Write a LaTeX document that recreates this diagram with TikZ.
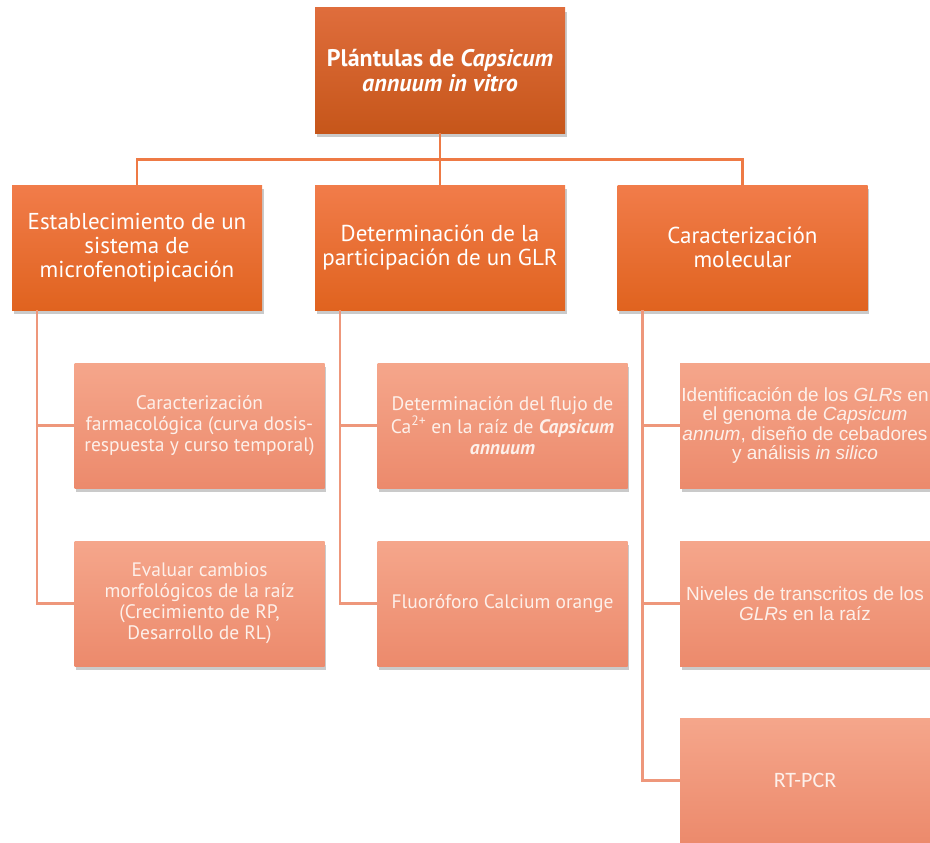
\documentclass[tikz,border=0pt]{standalone}
\usepackage{fontspec}
\setmainfont{PT Sans}
\newfontfamily\arialf{Liberation Sans}
\newfontfamily\calibf{Carlito}
\usetikzlibrary{shadows}
\definecolor{topT}{HTML}{DF6D3C}
\definecolor{topB}{HTML}{C6561A}
\definecolor{midT}{HTML}{F17C4A}
\definecolor{midB}{HTML}{E0631F}
\definecolor{leafT}{HTML}{F5A68B}
\definecolor{leafB}{HTML}{EC8A6C}
\definecolor{lineA}{HTML}{EE7A45}
\definecolor{lineB}{HTML}{EE977B}
\definecolor{leafTxt}{HTML}{FDF0EA}
\tikzset{
  box/.style={rectangle, minimum width=250pt, minimum height=125pt, inner sep=1pt,
    align=center, text=white,
    drop shadow={shadow xshift=1.5pt, shadow yshift=-4pt, opacity=0.35, fill=black!60}},
  topbox/.style={box, top color=topT, bottom color=topB,
    font=\fontsize{24}{25}\selectfont\bfseries},
  midbox/.style={box, top color=midT, bottom color=midB,
    font=\fontsize{23}{24}\selectfont},
  leafbox/.style={box, top color=leafT, bottom color=leafB, text=leafTxt,
    font=\fontsize{19.5}{21}\selectfont},
  linkA/.style={draw=lineA, line width=2.8pt},
  linkB/.style={draw=lineB, line width=2.4pt}
}
\begin{document}
\begin{tikzpicture}[x=1pt,y=-1pt]
\useasboundingbox (0,0) rectangle (930,843);
\clip (0,0) rectangle (930,843);
% nodes
\node[topbox] (top) at (440,70.5) {Plántulas de \textit{Capsicum}\\\textit{annuum in vitro}};
\node[midbox] (l1) at (137,247.5) {Establecimiento de un\\sistema de\\microfenotipicación};
\node[midbox] (l2) at (440,247.5) {Determinación de la\\participación de un GLR};
\node[midbox] (l3) at (742.5,247.5) {Caracterización\\molecular};
\node[leafbox] (a1) at (199.5,425.5) {Caracterización\\farmacológica (curva dosis-\\respuesta y curso temporal)};
\node[leafbox] (a2) at (199.5,603.5) {Evaluar cambios\\morfológicos de la raíz\\(Crecimiento de RP,\\Desarrollo de RL)};
\node[leafbox] (b1) at (502.5,425.5) {Determinación del flujo de\\Ca\textsuperscript{2+} en la raíz de \textbf{\textit{Capsicum}}\\\textbf{\textit{annuum}}};
\node[leafbox] (b2) at (502.5,603.5) {Fluoróforo Calcium orange};
\node[leafbox, font=\arialf\fontsize{19}{19.5}\selectfont] (c1) at (805,425.5) {Identificación de los \textit{GLRs} en\\el genoma de \textit{Capsicum}\\\textit{annum}, diseño de cebadores\\y análisis \textit{in silico}};
\node[leafbox, font=\arialf\fontsize{19}{19.5}\selectfont] (c2) at (805,603.5) {Niveles de transcritos de los\\\textit{GLRs} en la raíz};
\node[leafbox, font=\calibf\fontsize{22}{24}\selectfont] (c3) at (805,780.5) {RT-PCR};
% connectors level 1
\draw[linkA] (top.south) -- (l2.north);
\draw[linkA] (l1.north) -- ++(0,-25) -| (l3.north);
% connectors to leaves
\draw[linkB] ([xshift=25pt]l1.south west) |- (a1.west);
\draw[linkB] ([xshift=25pt]l1.south west) |- (a2.west);
\draw[linkB] ([xshift=25pt]l2.south west) |- (b1.west);
\draw[linkB] ([xshift=25pt]l2.south west) |- (b2.west);
\draw[linkB] ([xshift=25pt]l3.south west) |- (c1.west);
\draw[linkB] ([xshift=25pt]l3.south west) |- (c2.west);
\draw[linkB] ([xshift=25pt]l3.south west) |- (c3.west);
\end{tikzpicture}
\end{document}
